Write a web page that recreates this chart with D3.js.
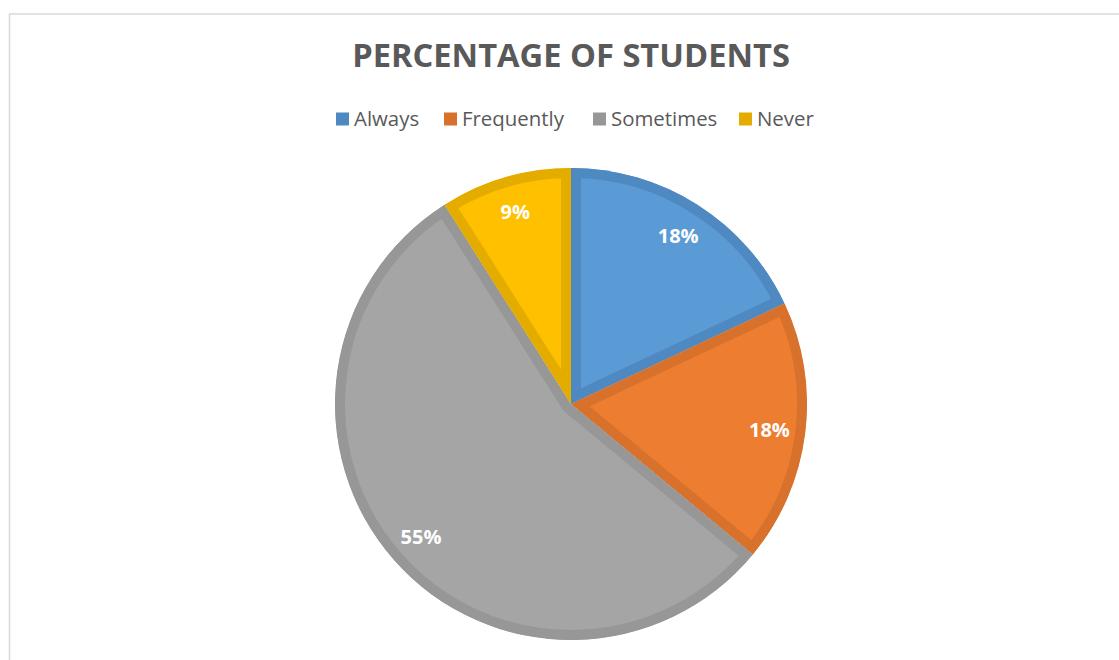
<!DOCTYPE html>
<html>
<head>
<meta charset="utf-8">
<script src="https://cdn.jsdelivr.net/npm/d3@7"></script>
<style>
  html, body { margin: 0; padding: 0; background: #fff; }
  svg { display: block; }
</style>
</head>
<body>
<svg id="chart" width="1119" height="660"></svg>
<script>
// Survey answers, share of students (%)
const categories = ["Always", "Frequently", "Sometimes", "Never"];
const values = [18, 18, 55, 9];
const fillColors = ["#5B9BD5", "#ED7D31", "#A5A5A5", "#FFC000"];
const edgeColors = ["#4E89C2", "#D8712B", "#979797", "#E5AC00"];
const titleText = "PERCENTAGE OF STUDENTS";

const svg = d3.select("#chart");
const W = 1119, H = 660;
const font = "'Open Sans', 'Noto Sans', sans-serif";

// chart frame
svg.append("rect")
  .attr("x", 9.5).attr("y", 14)
  .attr("width", W + 20).attr("height", H + 20)
  .attr("fill", "#fff")
  .attr("stroke", "#d9d9d9").attr("stroke-width", 1.5);

// title, sized to its span
const title = svg.append("text")
  .attr("x", 571).attr("y", 67)
  .attr("text-anchor", "middle")
  .attr("font-family", font).attr("font-weight", 700)
  .attr("font-size", 30)
  .attr("fill", "#595959")
  .text(titleText);
{
  const w = title.node().getComputedTextLength();
  title.attr("font-size", 30 * 438 / w);
}

// legend
const legendX = [336, 444, 593, 739];
const legend = svg.append("g");
categories.forEach((c, i) => {
  legend.append("rect")
    .attr("x", legendX[i]).attr("y", 112.5)
    .attr("width", 13).attr("height", 13)
    .attr("fill", edgeColors[i]);
  legend.append("text")
    .attr("class", "lg")
    .attr("x", legendX[i] + 18).attr("y", 126)
    .attr("font-family", font).attr("font-size", 19)
    .attr("fill", "#595959")
    .text(c);
});
{
  const ref = legend.selectAll("text.lg").filter((d, i, n) => n[i].textContent === "Frequently");
  const w = ref.node().getComputedTextLength();
  legend.selectAll("text.lg").attr("font-size", 19 * 102 / w);
}

// pie
const cx = 571, cy = 404, R = 236, edge = 10;
const pie = d3.pie().sort(null).value(d => d)(values);
const arc = d3.arc().innerRadius(0).outerRadius(R);
const g = svg.append("g").attr("transform", `translate(${cx},${cy})`);
const defs = svg.append("defs");

pie.forEach((p, i) => {
  defs.append("clipPath").attr("id", "slice" + i)
    .append("path").attr("d", arc(p));
  g.append("path")
    .attr("d", arc(p))
    .attr("fill", fillColors[i])
    .attr("stroke", edgeColors[i])
    .attr("stroke-width", edge * 2)
    .attr("stroke-linejoin", "miter")
    .attr("clip-path", `url(#slice${i})`);
});

// value labels
const labelArc = d3.arc().innerRadius(200).outerRadius(200);
pie.forEach((p, i) => {
  const [x, y] = labelArc.centroid(p);
  g.append("text")
    .attr("x", x).attr("y", y)
    .attr("text-anchor", "middle")
    .attr("dominant-baseline", "central")
    .attr("font-family", font).attr("font-weight", 700)
    .attr("font-size", 20)
    .attr("fill", "#fff")
    .text(values[i] + "%");
});
</script>
</body>
</html>
